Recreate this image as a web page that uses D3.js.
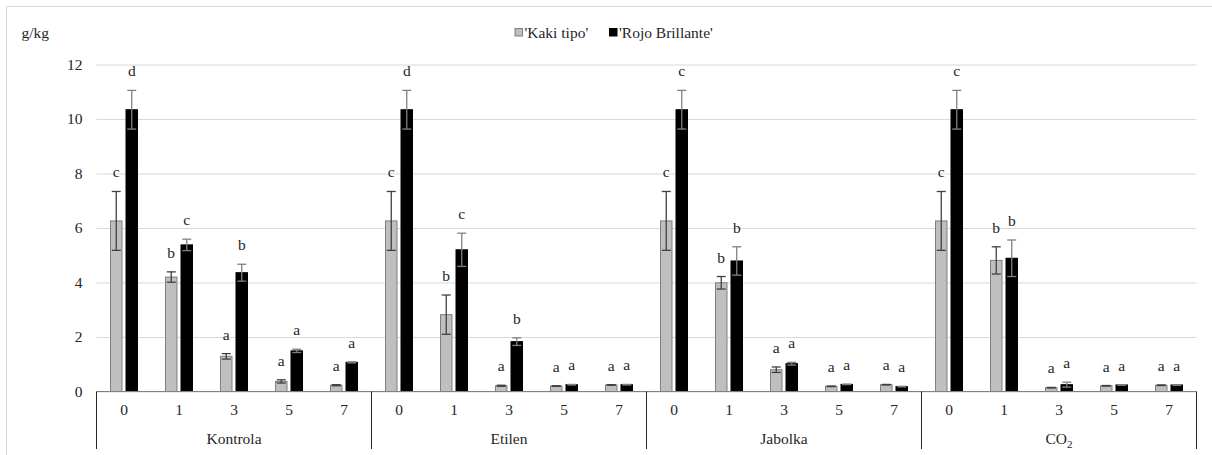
<!DOCTYPE html>
<html>
<head>
<meta charset="utf-8">
<script src="https://cdn.jsdelivr.net/npm/d3@7/dist/d3.min.js"></script>
<style>
  html, body { margin: 0; padding: 0; background: #fff; }
  svg { display: block; }
  svg text { font-family: 'Liberation Serif', 'Times New Roman', 'DejaVu Serif', serif !important; }
</style>
</head>
<body>
<svg id="chart" width="1212" height="455"></svg>
<script>
// Treatments, sampling days and the two cultivars
const groups = ["Kontrola", "Etilen", "Jabolka", "CO2"];
const days = ["0", "1", "3", "5", "7"];
const seriesNames = ["'Kaki tipo'", "'Rojo Brillante'"];
const yTicks = [0, 2, 4, 6, 8, 10, 12];

// 'Kaki tipo' means and errors (g/kg), group by group, days 0,1,3,5,7
const kakiTipo = [6.26, 4.20, 1.29, 0.37, 0.23,
                  6.26, 2.82, 0.21, 0.20, 0.24,
                  6.26, 3.99, 0.80, 0.19, 0.25,
                  6.26, 4.81, 0.14, 0.21, 0.23];
const kakiTipoErr = [1.08, 0.19, 0.10, 0.06, 0.02,
                     1.08, 0.72, 0.02, 0.01, 0.01,
                     1.08, 0.23, 0.10, 0.01, 0.01,
                     1.08, 0.50, 0.01, 0.01, 0.01];
const kakiTipoLetters = ["c", "b", "a", "a", "a",
                         "c", "b", "a", "a", "a",
                         "c", "b", "a", "a", "a",
                         "c", "b", "a", "a", "a"];

// 'Rojo Brillante' means and errors (g/kg)
const rojoBrillante = [10.34, 5.38, 4.36, 1.49, 1.07,
                       10.34, 5.20, 1.83, 0.25, 0.25,
                       10.34, 4.79, 1.02, 0.26, 0.18,
                       10.34, 4.89, 0.25, 0.24, 0.24];
const rojoBrillanteErr = [0.71, 0.21, 0.31, 0.06, 0.02,
                          0.71, 0.61, 0.14, 0.01, 0.01,
                          0.71, 0.52, 0.05, 0.01, 0.01,
                          0.71, 0.67, 0.09, 0.01, 0.01];
const rojoBrillanteLetters = ["d", "c", "b", "a", "a",
                              "d", "c", "b", "a", "a",
                              "c", "b", "a", "a", "a",
                              "c", "b", "a", "a", "a"];

const FONT = "'Liberation Serif', 'Times New Roman', 'DejaVu Serif', serif";
const svg = d3.select("#chart").attr("font-family", FONT);
const FS = 15.5;
const TXT = "#262626";

// outer chart frame
svg.append("rect")
  .attr("x", 6.5).attr("y", 6.5)
  .attr("width", 1300).attr("height", 600)
  .attr("fill", "none").attr("stroke", "#d9d9d9").attr("stroke-width", 1);

const plot = { left: 96.5, right: 1196.5, top: 64.5, bottom: 391.5 };

// category keys: one per (group, day)
const cats = [];
groups.forEach(g => days.forEach(d => cats.push(g + "|" + d)));

const x = d3.scaleBand().domain(cats).range([plot.left, plot.right]).padding(0);
const xg = d3.scaleBand().domain(groups).range([plot.left, plot.right]).padding(0);
const xs = d3.scaleBand().domain(seriesNames).range([0, x.bandwidth()])
  .paddingInner(0.194).paddingOuter(0.871);
const y = d3.scaleLinear().domain([0, 12]).range([plot.bottom, plot.top]);

// gridlines + y tick labels
const yAxis = d3.axisLeft(y).tickValues(yTicks).tickSize(-(plot.right - plot.left)).tickPadding(14);
const gy = svg.append("g").attr("transform", `translate(${plot.left},0)`).call(yAxis)
  .attr("font-family", FONT).attr("font-size", FS);
gy.select(".domain").remove();
gy.selectAll(".tick line").attr("stroke", "#d9d9d9").attr("stroke-width", 1);
gy.selectAll(".tick text").attr("fill", TXT);

// unit label
svg.append("text").attr("x", 21.5).attr("y", 38).attr("fill", TXT)
  .attr("font-size", FS).text("g/kg");

const series = [
  { name: seriesNames[0], vals: kakiTipo, err: kakiTipoErr, letters: kakiTipoLetters,
    fill: "#bfbfbf", stroke: "#7f7f7f", errColor: "#404040" },
  { name: seriesNames[1], vals: rojoBrillante, err: rojoBrillanteErr, letters: rojoBrillanteLetters,
    fill: "#000000", stroke: "#000000", errColor: "#808080" }
];

series.forEach(s => {
  const rows = cats.map((c, i) => ({ c, v: s.vals[i], e: s.err[i], l: s.letters[i] }));
  const g = svg.append("g");
  const bx = d => x(d.c) + xs(s.name);
  const bw = xs.bandwidth();

  g.selectAll("rect").data(rows).join("rect")
    .attr("x", d => bx(d) + 0.5)
    .attr("y", d => y(d.v))
    .attr("width", bw - 1)
    .attr("height", d => y(0) - y(d.v))
    .attr("fill", s.fill)
    .attr("stroke", s.stroke).attr("stroke-width", 1);

  // error bars (±)
  const eb = g.selectAll("g.err").data(rows).join("g").attr("class", "err")
    .attr("stroke", s.errColor).attr("stroke-width", 1.3);
  eb.append("line")
    .attr("x1", d => bx(d) + bw / 2).attr("x2", d => bx(d) + bw / 2)
    .attr("y1", d => y(d.v + d.e)).attr("y2", d => y(Math.max(0, d.v - d.e)));
  eb.append("line")
    .attr("x1", d => bx(d) + bw / 2 - 4.5).attr("x2", d => bx(d) + bw / 2 + 4.5)
    .attr("y1", d => y(d.v + d.e)).attr("y2", d => y(d.v + d.e));
  eb.append("line")
    .attr("x1", d => bx(d) + bw / 2 - 4.5).attr("x2", d => bx(d) + bw / 2 + 4.5)
    .attr("y1", d => y(Math.max(0, d.v - d.e))).attr("y2", d => y(Math.max(0, d.v - d.e)));

  // significance letters
  g.selectAll("text").data(rows).join("text")
    .attr("x", d => bx(d) + bw / 2)
    .attr("y", d => y(d.v + d.e) - 14)
    .attr("text-anchor", "middle")
    .attr("fill", TXT)
    .attr("font-size", FS)
    .text(d => d.l);
});

// category axis: baseline, group separators and labels
svg.append("line")
  .attr("x1", plot.left).attr("x2", plot.right)
  .attr("y1", y(0)).attr("y2", y(0))
  .attr("stroke", "#808080").attr("stroke-width", 1.2);

const sepX = groups.map(g => xg(g)).concat([plot.right]);
svg.selectAll("line.sep").data(sepX).join("line").attr("class", "sep")
  .attr("x1", d => d).attr("x2", d => d)
  .attr("y1", y(0)).attr("y2", 449)
  .attr("stroke", "#262626").attr("stroke-width", 1);

svg.selectAll("text.day").data(cats).join("text").attr("class", "day")
  .attr("x", d => x(d) + x.bandwidth() / 2)
  .attr("y", 415)
  .attr("text-anchor", "middle").attr("fill", TXT)
  .attr("font-size", FS)
  .text(d => d.split("|")[1]);

const gl = svg.selectAll("text.grp").data(groups).join("text").attr("class", "grp")
  .attr("x", d => xg(d) + xg.bandwidth() / 2)
  .attr("y", 444)
  .attr("text-anchor", "middle").attr("fill", TXT)
  .attr("font-size", FS);
gl.each(function (d) {
  const t = d3.select(this);
  if (d === "CO2") {
    t.append("tspan").text("CO");
    t.append("tspan").attr("dy", 3.5).attr("font-size", 11).text("2");
  } else {
    t.text(d);
  }
});

// legend
const legend = [
  { name: seriesNames[0], fill: "#bfbfbf", stroke: "#7f7f7f", x: 514.5 },
  { name: seriesNames[1], fill: "#000000", stroke: "#000000", x: 609 }
];
const lg = svg.selectAll("g.leg").data(legend).join("g").attr("class", "leg")
  .attr("transform", d => `translate(${d.x},0)`);
lg.append("rect").attr("x", 0.5).attr("y", 28.5).attr("width", 7.5).attr("height", 7.5)
  .attr("fill", d => d.fill).attr("stroke", d => d.stroke);
lg.append("text").attr("x", 10).attr("y", 37.5).attr("fill", TXT)
  .attr("font-size", FS).text(d => d.name);
</script>
</body>
</html>
